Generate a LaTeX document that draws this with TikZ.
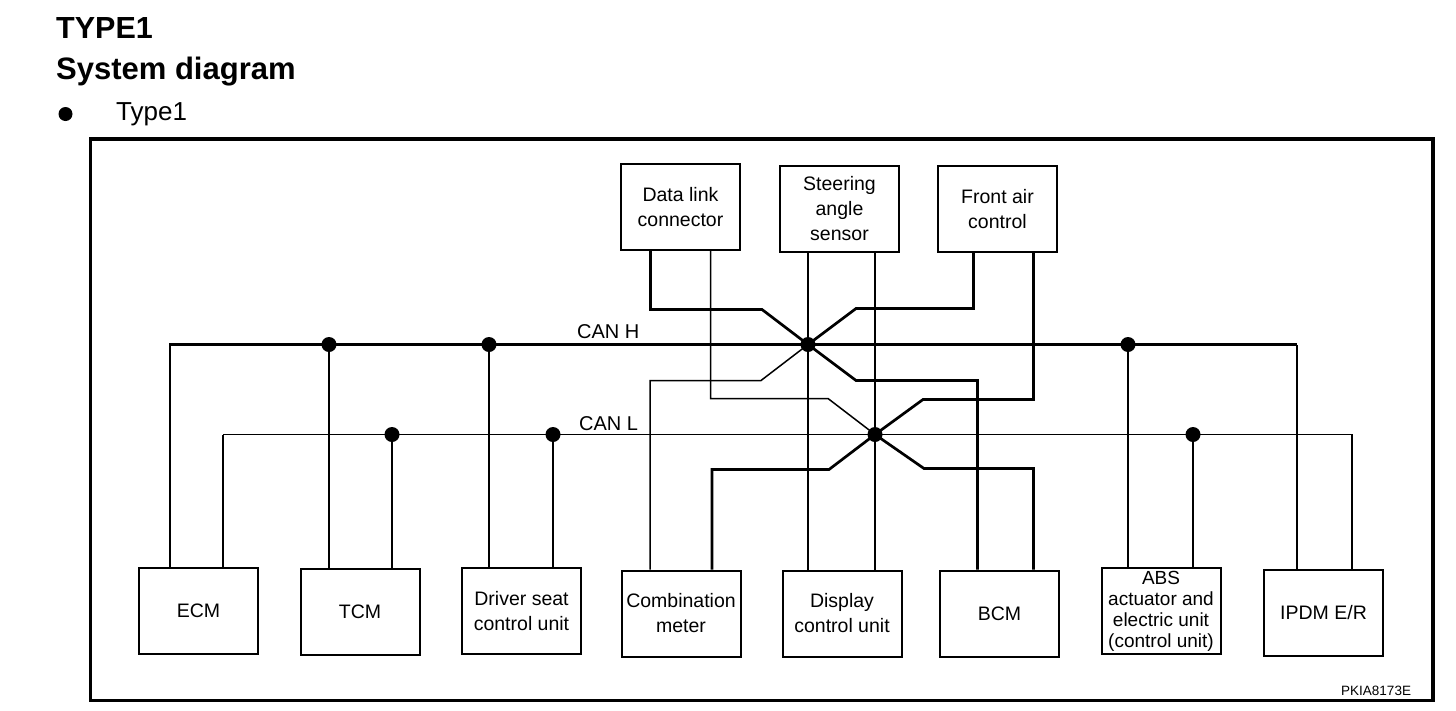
\documentclass[tikz,border=0pt]{standalone}
\usepackage{fontspec}
\setmainfont{Liberation Sans}
\usepackage{tikz}

\tikzset{
	unit/.style={draw, line width=2pt, minimum width=119pt, minimum height=86pt, inner sep=2pt, align=center, font=\fontsize{19.5}{25}\selectfont},
	wire/.style={line width=2.7pt},
	thin wire/.style={line width=1.5pt},
	junction/.style={circle, fill, inner sep=0pt, minimum size=15pt}
}

\begin{document}
\begin{tikzpicture}[x=1pt, y=-1pt]
	\useasboundingbox (0,0) rectangle (1456,710);

	\node[anchor=base west, inner sep=0pt, font=\fontsize{30.5}{34}\selectfont\bfseries] (title) at (56,38) {TYPE1};
	\node[anchor=base west, inner sep=0pt, font=\fontsize{31}{35}\selectfont\bfseries] (subtitle) at (56,79) {System diagram};
	\node[circle, fill, inner sep=0pt, minimum size=14pt] (bullet) at (65.5,114) {};
	\node[anchor=base west, inner sep=0pt, font=\fontsize{26}{30}\selectfont] (type) at (116,120) {Type1};

	\draw[line width=3.5pt] (90.5,139) rectangle (1433,700.5);

	\node[unit] (dlc) at (680.5,207) {Data link\\connector};
	\node[unit] (sas) at (839.5,209) {Steering\\angle\\sensor};
	\node[unit] (fac) at (997.5,209) {Front air\\control};

	\node[unit] (ecm) at (198.5,610.5) {ECM};
	\node[unit] (tcm) at (360,611.5) {TCM};
	\node[unit] (dsu) at (521.5,611) {Driver seat\\control unit};
	\node[unit] (cmb) at (681,613.5) {Combination\\meter};
	\node[unit] (dcu) at (842,613.5) {Display\\control unit};
	\node[unit] (bcm) at (999.5,613.5) {BCM};
	\node[unit, font=\fontsize{19}{21}\selectfont] (abs) at (1161,611) {ABS\\actuator and\\electric unit\\(control unit)};
	\node[unit] (ipdm) at (1323.5,613) {IPDM E/R};

	\coordinate (h0) at (170,344.5);
	\coordinate (h1) at (329,344.5);
	\coordinate (h2) at (489,344.5);
	\coordinate (hx) at (808,344.5);
	\coordinate (h3) at (1128,344.5);
	\coordinate (h4) at (1297,344.5);
	\coordinate (l0) at (223,434.5);
	\coordinate (l1) at (392,434.5);
	\coordinate (l2) at (553,434.5);
	\coordinate (lx) at (875,434.5);
	\coordinate (l3) at (1193,434.5);
	\coordinate (l4) at (1352,434.5);

	\node[anchor=base west, inner sep=0pt, font=\fontsize{20}{24}\selectfont] (canh) at (577,338) {CAN H};
	\node[anchor=base west, inner sep=0pt, font=\fontsize{20}{24}\selectfont] (canl) at (579,430) {CAN L};

	\draw[wire] (ecm.north -| h0) -- (h0) -- (h4);
	\draw[thin wire] (ipdm.north -| h4) -- (h4);
	\draw[thin wire] (l0) -- (l4) -- (ipdm.north -| l4);
	\draw[wire] (ecm.north -| l0) -- (l0);

	\draw[thin wire] (tcm.north -| h1) -- (h1);
	\draw[wire] (tcm.north -| l1) -- (l1);
	\draw[wire] (dsu.north -| h2) -- (h2);
	\draw[wire] (dsu.north -| l2) -- (l2);
	\draw[wire] (abs.north -| h3) -- (h3);
	\draw[thin wire] (abs.north -| l3) -- (l3);

	\draw[thin wire] (sas.south -| hx) -- (dcu.north -| hx);
	\draw[wire] (sas.south -| lx) -- (dcu.north -| lx);

	\draw[wire] ([xshift=-30pt]dlc.south) |- ([shift={(-46,-35)}]hx) -- (hx);
	\draw[thin wire] ([xshift=30pt]dlc.south) |- ([shift={(-47,-36)}]lx) -- (lx);
	\draw[wire] ([xshift=-24pt]fac.south) |- ([shift={(48,-36)}]hx) -- (hx);
	\draw[wire] ([xshift=36pt]fac.south) |- ([shift={(48,-35)}]lx) -- (lx);
	\draw[thin wire] ([xshift=-31pt]cmb.north) |- ([shift={(-47,36)}]hx) -- (hx);
	\draw[wire] ([xshift=31pt]cmb.north) |- ([shift={(-46,35)}]lx) -- (lx);
	\draw[wire] ([xshift=-22pt]bcm.north) |- ([shift={(48,36)}]hx) -- (hx);
	\draw[wire] ([xshift=34pt]bcm.north) |- ([shift={(49,34)}]lx) -- (lx);

	\foreach \j in {h1,h2,hx,h3,l1,l2,lx,l3}
		\node[junction] at (\j) {};

	\node[anchor=base west, inner sep=0pt, font=\fontsize{13.5}{16}\selectfont] (code) at (1341,695) {PKIA8173E};
\end{tikzpicture}
\end{document}
